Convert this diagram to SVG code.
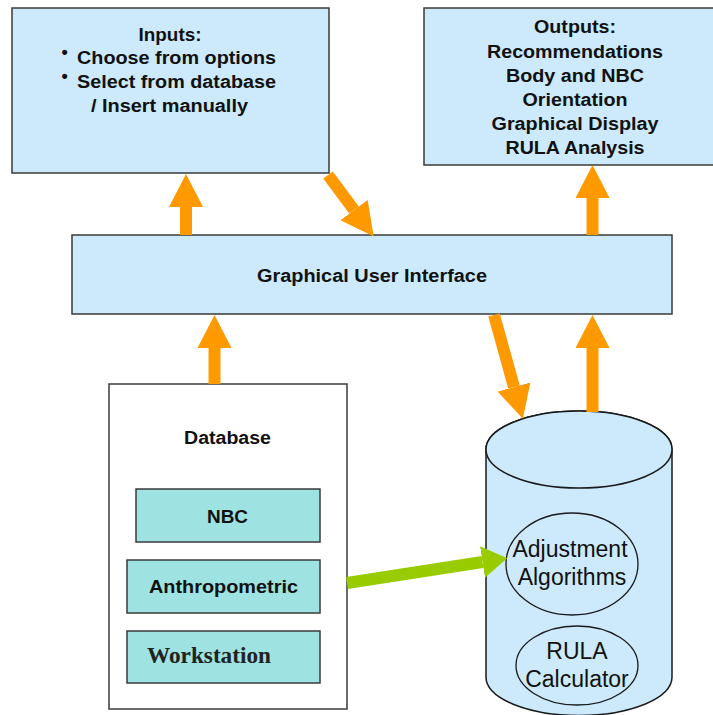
<svg xmlns="http://www.w3.org/2000/svg" width="713" height="715" viewBox="0 0 713 715">
<style>
.box{fill:#CCEAFB;stroke:#3a3a3a;stroke-width:1.5}
.db{fill:#ffffff;stroke:#3a3a3a;stroke-width:1.5}
.tbl{fill:#9EE3E1;stroke:#3a3a3a;stroke-width:1.5}
.cyl{fill:#CCEAFB;stroke:#1a1a1a;stroke-width:1.5}
.ell{fill:#CCEAFB;stroke:#1a1a1a;stroke-width:1.3}
.b{font-family:"Liberation Sans",Arial,sans-serif;font-weight:bold;font-size:18px;fill:#111}
.r{font-family:"Liberation Sans",Arial,sans-serif;font-size:23px;fill:#111}
.s{font-family:"Liberation Serif","Times New Roman",serif;font-weight:bold;font-size:23px;fill:#222}
.or{stroke:#FF9900;stroke-width:12;fill:none}
.gr{stroke:#99CC00;stroke-width:12;fill:none}
</style>
<defs>
<marker id="ho" markerUnits="userSpaceOnUse" viewBox="0 -17 34 34" markerWidth="34" markerHeight="34" refX="0" refY="0" orient="auto">
<path d="M0,-17 L33,0 L0,17 z" fill="#FF9900"/>
</marker>
<marker id="hg" markerUnits="userSpaceOnUse" viewBox="0 -16 26 32" markerWidth="26" markerHeight="32" refX="0" refY="0" orient="auto">
<path d="M0,-16 L25,0 L0,16 z" fill="#99CC00"/>
</marker>
</defs>
<rect x="0" y="0" width="713" height="715" fill="#ffffff"/>

<g id="inputs">
<rect class="box" x="12" y="8" width="317" height="165"/>
<text class="b" x="170" y="41" text-anchor="middle" textLength="63" lengthAdjust="spacingAndGlyphs">Inputs:</text>
<text class="b" x="61.5" y="58" font-size="23">•</text>
<text class="b" x="77" y="64" textLength="199" lengthAdjust="spacingAndGlyphs">Choose from options</text>
<text class="b" x="61.5" y="82" font-size="23">•</text>
<text class="b" x="77" y="88" textLength="199" lengthAdjust="spacingAndGlyphs">Select from database</text>
<text class="b" x="91" y="112" textLength="157" lengthAdjust="spacingAndGlyphs">/ Insert manually</text>
</g>

<g id="outputs">
<rect class="box" x="424" y="8" width="295" height="157"/>
<text class="b" x="575" y="33" text-anchor="middle" textLength="82" lengthAdjust="spacingAndGlyphs">Outputs:</text>
<text class="b" x="575" y="58" text-anchor="middle" textLength="176" lengthAdjust="spacingAndGlyphs">Recommendations</text>
<text class="b" x="575" y="82" text-anchor="middle" textLength="138" lengthAdjust="spacingAndGlyphs">Body and NBC</text>
<text class="b" x="575" y="106" text-anchor="middle" textLength="105" lengthAdjust="spacingAndGlyphs">Orientation</text>
<text class="b" x="575" y="130" text-anchor="middle" textLength="167" lengthAdjust="spacingAndGlyphs">Graphical Display</text>
<text class="b" x="575" y="154" text-anchor="middle" textLength="139" lengthAdjust="spacingAndGlyphs">RULA Analysis</text>
</g>

<g id="gui">
<rect class="box" x="72" y="235" width="600" height="79"/>
<text class="b" x="372" y="282" text-anchor="middle" font-size="18.5" textLength="230" lengthAdjust="spacingAndGlyphs">Graphical User Interface</text>
</g>

<g id="database">
<rect class="db" x="109" y="384" width="238" height="325"/>
<text class="b" x="227.5" y="444" text-anchor="middle" textLength="87" lengthAdjust="spacingAndGlyphs">Database</text>
<g id="nbc">
<rect class="tbl" x="136" y="489" width="184" height="53"/>
<text class="b" x="227.5" y="523" text-anchor="middle" textLength="41" lengthAdjust="spacingAndGlyphs">NBC</text>
</g>
<g id="anthropometric">
<rect class="tbl" x="127" y="560" width="193" height="53"/>
<text class="b" x="223.5" y="593" text-anchor="middle" textLength="149" lengthAdjust="spacingAndGlyphs">Anthropometric</text>
</g>
<g id="workstation">
<rect class="tbl" x="127" y="631" width="193" height="52"/>
<text class="s" x="147" y="663" textLength="124" lengthAdjust="spacingAndGlyphs">Workstation</text>
</g>
</g>

<g id="engine">
<path class="cyl" d="M486,449.5 L486,677 A93,38.5 0 0 0 672,677 L672,449.5 A93,38.5 0 0 0 486,449.5 Z"/>
<ellipse class="cyl" cx="579" cy="449.5" rx="93" ry="38.5"/>
<g id="adjustment">
<ellipse class="ell" cx="572" cy="564" rx="66" ry="51"/>
<text class="r" x="570" y="557" text-anchor="middle">Adjustment</text>
<text class="r" x="572" y="585" text-anchor="middle">Algorithms</text>
</g>
<g id="rula">
<ellipse class="ell" cx="577" cy="665.5" rx="61" ry="39.5"/>
<text class="r" x="577" y="659" text-anchor="middle">RULA</text>
<text class="r" x="577" y="687" text-anchor="middle">Calculator</text>
</g>
</g>

<g id="connectors">
<line class="or" x1="186" y1="235" x2="186" y2="207" marker-end="url(#ho)"/>
<line class="or" x1="328" y1="175" x2="354" y2="210" marker-end="url(#ho)"/>
<line class="or" x1="592.5" y1="235" x2="592.5" y2="198" marker-end="url(#ho)"/>
<line class="or" x1="494" y1="315" x2="514" y2="387" marker-end="url(#ho)"/>
<line class="or" x1="592.5" y1="412" x2="592.5" y2="348" marker-end="url(#ho)"/>
<line class="or" x1="214.5" y1="384" x2="214.5" y2="348" marker-end="url(#ho)"/>
<line class="gr" x1="347" y1="583" x2="482.5" y2="562" marker-end="url(#hg)"/>
</g>
</svg>
